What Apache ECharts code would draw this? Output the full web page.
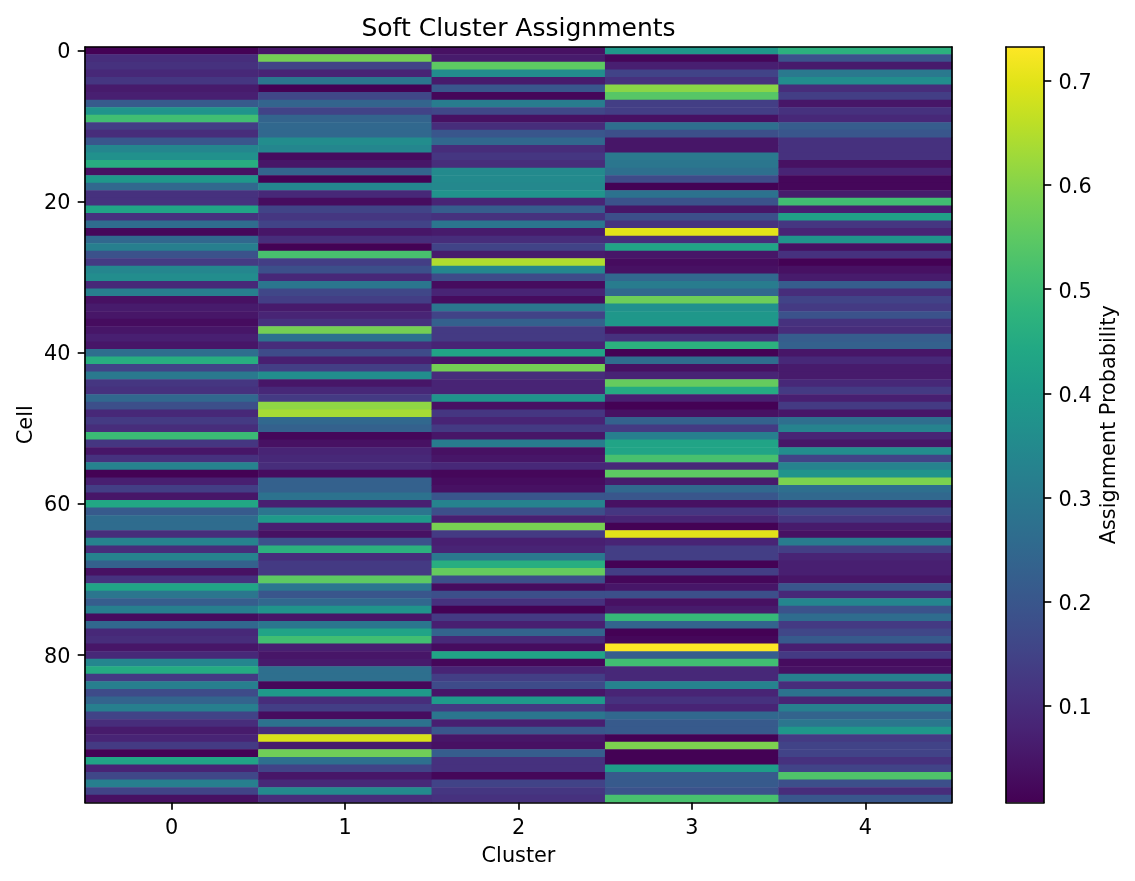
<!DOCTYPE html>
<html>
<head>
<meta charset="utf-8">
<style>html,body{margin:0;padding:0;background:#fff}#chart{width:1135px;height:881px}</style>
<script src="https://cdn.jsdelivr.net/npm/echarts@6/dist/echarts.min.js"></script>
</head>
<body>
<div id="chart"></div>
<script>
// Assignment probability of each cell (row 0..99) for every cluster.
const cluster0 = [.01,.10,.11,.09,.12,.06,.07,.21,.38,.51,.14,.10,.20,.34,.37,.46,.04,.39,.25,.11,
  .11,.43,.11,.26,.02,.25,.32,.19,.13,.34,.36,.09,.32,.04,.06,.05,.03,.05,.07,.05,
  .27,.46,.15,.30,.12,.11,.25,.18,.09,.13,.10,.50,.12,.05,.11,.33,.01,.07,.14,.05,
  .44,.21,.26,.26,.10,.33,.10,.33,.23,.04,.11,.43,.29,.22,.32,.03,.25,.09,.10,.05,
  .09,.34,.45,.13,.32,.17,.24,.32,.15,.10,.06,.08,.13,.01,.43,.08,.16,.32,.15,.04];
const cluster1 = [.05,.58,.15,.08,.29,.01,.16,.24,.15,.24,.25,.25,.36,.34,.03,.05,.24,.01,.34,.09,
  .03,.15,.12,.15,.05,.10,.01,.52,.14,.18,.09,.29,.16,.14,.06,.08,.11,.58,.28,.10,
  .17,.07,.14,.36,.05,.09,.13,.61,.635,.25,.23,.02,.04,.08,.09,.10,.03,.23,.23,.28,
  .07,.29,.40,.07,.04,.19,.47,.10,.13,.13,.55,.29,.20,.25,.38,.05,.29,.43,.51,.07,
  .05,.06,.27,.27,.02,.40,.10,.14,.03,.28,.10,.69,.06,.575,.27,.15,.05,.09,.35,.10];
const cluster2 = [.04,.06,.55,.36,.06,.20,.02,.31,.16,.04,.10,.20,.25,.10,.12,.10,.35,.35,.345,.375,
  .08,.22,.11,.29,.06,.10,.15,.06,.645,.34,.17,.03,.08,.03,.29,.15,.23,.13,.13,.08,
  .43,.05,.58,.10,.08,.08,.38,.04,.12,.08,.13,.05,.31,.04,.05,.09,.02,.03,.04,.20,
  .33,.18,.07,.585,.13,.07,.08,.30,.46,.56,.18,.03,.18,.11,.01,.13,.07,.24,.09,.03,
  .43,.02,.08,.14,.17,.05,.40,.13,.29,.07,.20,.05,.04,.22,.11,.11,.02,.15,.12,.11];
const cluster3 = [.39,.02,.07,.15,.11,.604,.54,.14,.14,.04,.27,.18,.05,.05,.30,.29,.27,.17,.01,.28,
  .19,.05,.18,.11,.70,.10,.43,.05,.03,.04,.25,.31,.25,.57,.37,.39,.39,.04,.11,.47,
  .01,.26,.04,.08,.56,.45,.07,.01,.04,.23,.13,.32,.43,.43,.52,.09,.55,.06,.25,.20,
  .04,.12,.08,.01,.70,.08,.14,.14,.01,.14,.02,.05,.18,.04,.06,.49,.24,.01,.02,.7323,
  .22,.51,.09,.09,.33,.08,.11,.08,.25,.21,.21,.01,.59,.01,.01,.41,.21,.21,.19,.52];
const cluster4 = [.47,.19,.06,.30,.36,.10,.14,.05,.11,.09,.22,.20,.11,.11,.11,.04,.08,.02,.02,.06,
  .51,.07,.42,.12,.08,.38,.04,.11,.01,.04,.06,.22,.10,.15,.13,.19,.11,.10,.22,.23,
  .05,.09,.06,.06,.09,.13,.07,.13,.05,.27,.33,.08,.05,.36,.15,.33,.38,.59,.27,.25,
  .06,.16,.12,.06,.04,.31,.14,.08,.07,.07,.05,.20,.09,.34,.19,.26,.13,.16,.21,.07,
  .13,.03,.04,.32,.10,.28,.08,.32,.24,.29,.39,.13,.15,.15,.11,.15,.53,.18,.10,.20];

const clusters = [cluster0, cluster1, cluster2, cluster3, cluster4];
const clusterLabels = ['0', '1', '2', '3', '4'];
const cellLabels = Array.from({length: 100}, (_, i) => String(i));
const colorbarTicks = [0.1, 0.2, 0.3, 0.4, 0.5, 0.6, 0.7];
const valueMin = 0.0075;
const valueMax = 0.7323;

const viridis = ['#440154','#471365','#482475','#463480','#414487','#3b528b','#355f8d','#2f6c8e',
  '#2a788e','#25848e','#21918c','#1e9c89','#22a884','#2fb47c','#44bf70','#5ec962','#7ad151',
  '#9bd93c','#bddf26','#dfe318','#fde725'];

const cells = [];
clusters.forEach((column, c) => column.forEach((v, r) => cells.push([c, r, v])));

const FONT = 'DejaVu Sans';
const INK = '#000';
const LINE_W = 1.67;
const frameLine = {show: true, onZero: false, lineStyle: {color: INK, width: LINE_W}};
const tickStyle = {show: true, length: 7.3, lineStyle: {color: INK, width: LINE_W}};
const tickText = paddingTop => ({fontFamily: FONT, fontSize: 20.8, color: INK, padding: [paddingTop, 0, 0, 0]});

// An axis that only contributes a spine on one side of a grid.
const spineAxis = (gridIndex, position, type) => ({
  gridIndex, position, type, z: 5,
  data: type === 'category' ? [''] : undefined,
  axisLine: frameLine, axisTick: {show: false}, axisLabel: {show: false}, splitLine: {show: false}
});

const chart = echarts.init(document.getElementById('chart'), null, {renderer: 'canvas'});
chart.setOption({
  animation: false,
  backgroundColor: '#fff',
  textStyle: {fontFamily: FONT, color: INK},
  title: {
    text: 'Soft Cluster Assignments',
    left: 513.5, top: 12, textAlign: 'center',
    textStyle: {fontFamily: FONT, fontSize: 25, fontWeight: 'normal', color: INK}
  },
  grid: [
    {left: 85, top: 47, width: 867, height: 755.5},
    {left: 1006, top: 47, width: 38, height: 755.5}
  ],
  xAxis: [
    {
      type: 'category', gridIndex: 0, position: 'bottom', data: clusterLabels, z: 5,
      name: 'Cluster', nameLocation: 'middle', nameGap: 44,
      nameTextStyle: {fontFamily: FONT, fontSize: 20.8, color: INK},
      axisLine: frameLine,
      axisTick: {...tickStyle, alignWithLabel: true},
      axisLabel: {fontFamily: FONT, fontSize: 20.8, color: INK, margin: 15.5},
      splitLine: {show: false}, splitArea: {show: false}
    },
    spineAxis(0, 'top', 'category'),
    spineAxis(1, 'bottom', 'category'),
    spineAxis(1, 'top', 'category')
  ],
  yAxis: [
    {
      type: 'category', gridIndex: 0, position: 'left', inverse: true, data: cellLabels, z: 5,
      name: 'Cell', nameLocation: 'middle', nameGap: 48, nameRotate: 90, nameMoveOverlap: false,
      nameTextStyle: {fontFamily: FONT, fontSize: 20.8, color: INK},
      axisLine: frameLine,
      axisTick: {...tickStyle, alignWithLabel: true, interval: 19},
      axisLabel: {
        margin: 14.6, interval: 19,
        formatter: v => `{t|${v}}`, rich: {t: tickText(4)}
      },
      splitLine: {show: false}, splitArea: {show: false}
    },
    spineAxis(0, 'right', 'category'),
    {
      type: 'value', gridIndex: 1, position: 'right', min: valueMin, max: valueMax, z: 5,
      name: 'Assignment Probability', nameLocation: 'middle', nameGap: 55, nameRotate: 90,
      nameTextStyle: {fontFamily: FONT, fontSize: 20.8, color: INK},
      axisLine: frameLine,
      axisTick: {...tickStyle, customValues: colorbarTicks},
      axisLabel: {
        margin: 14.6, customValues: colorbarTicks,
        formatter: v => `{t|${v.toFixed(1)}}`, rich: {t: tickText(6)}
      },
      splitLine: {show: false}
    },
    {...spineAxis(1, 'left', 'value'), min: valueMin, max: valueMax}
  ],
  visualMap: {
    show: false, type: 'continuous', seriesIndex: 0,
    min: valueMin, max: valueMax, dimension: 2,
    inRange: {color: viridis}
  },
  series: [
    {
      type: 'heatmap', xAxisIndex: 0, yAxisIndex: 0, data: cells,
      itemStyle: {borderWidth: 0}, emphasis: {disabled: true}, silent: true
    },
    {
      // Colorbar: a single full-height bar filled with the colormap.
      type: 'bar', xAxisIndex: 2, yAxisIndex: 2, data: [valueMax],
      barWidth: '100%', silent: true,
      itemStyle: {
        color: {
          type: 'linear', x: 0, y: 1, x2: 0, y2: 0,
          colorStops: viridis.map((color, i) => ({offset: i / (viridis.length - 1), color}))
        }
      }
    }
  ]
});
</script>
</body>
</html>
